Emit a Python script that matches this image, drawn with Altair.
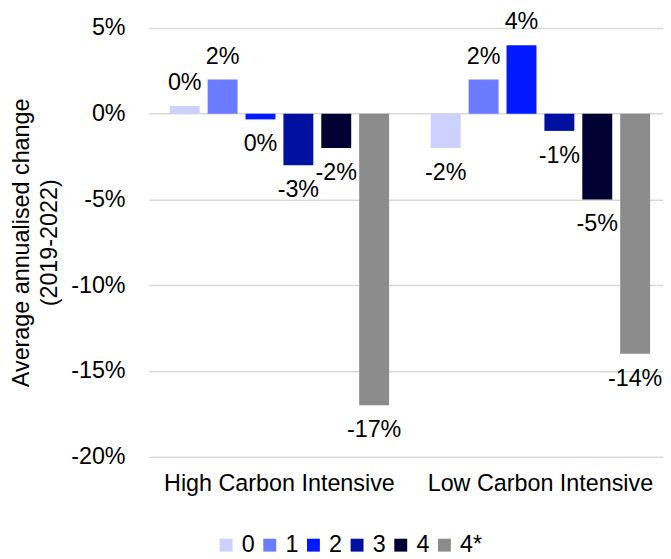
import altair as alt
import pandas as pd

groups = ["High Carbon Intensive", "Low Carbon Intensive"]
series = ["0", "1", "2", "3", "4", "4*"]
high_vals = [0.45, 2.0, -0.33, -3.0, -2.0, -17.0]
low_vals = [-2.0, 2.0, 4.0, -1.0, -5.0, -14.0]
colors = ["#CCD1FF", "#6B7BFF", "#0019FF", "#0011A0", "#000033", "#8C8C8C"]
y_ticks = [-20, -15, -10, -5, 0, 5]

rows = []
for g, vals in zip(groups, [high_vals, low_vals]):
    for s, v in zip(series, vals):
        rows.append({"group": g, "series": s, "value": v, "label": f"{int(round(v))}%"})
df = pd.DataFrame(rows)

FONT = "Liberation Sans"
FS = 23.5

x = alt.X(
    "group:N", sort=groups, title=None,
    scale=alt.Scale(paddingInner=0, paddingOuter=0, range=[2, 528]),
    axis=alt.Axis(labelAngle=0, labelFontSize=FS, labelColor="#000", labelFont=FONT,
                  labelLimit=0, domain=False, ticks=False, labelPadding=15),
)
xo = alt.XOffset("series:N", sort=series,
                 scale=alt.Scale(paddingInner=0.21, paddingOuter=0.55))
y = alt.Y(
    "value:Q", scale=alt.Scale(domain=[-20, 5], nice=False, zero=False),
    axis=alt.Axis(values=y_ticks, labelExpr="datum.value + '%'",
                  title=["Average annualised change", "(2019-2022)"],
                  titleFontSize=FS, titleFont=FONT, titleFontWeight="normal", titleColor="#000",
                  titleLineHeight=28, titlePadding=9,
                  labelFontSize=FS, labelFont=FONT, labelColor="#000", labelPadding=22,
                  domain=False, ticks=False, grid=True, gridColor="#D9D9D9", gridWidth=1.5),
)
color = alt.Color(
    "series:N", sort=series,
    scale=alt.Scale(domain=series, range=colors),
    legend=alt.Legend(orient="none", legendX=68, legendY=509, direction="horizontal", title=None,
                      symbolType="square", symbolSize=169, symbolStrokeWidth=0,
                      labelFontSize=FS, labelFont=FONT, labelColor="#000",
                      labelOffset=4, columnPadding=3),
)

base = alt.Chart(df)
bars = base.mark_bar().encode(x=x, xOffset=xo, y=y, color=color)
pos = base.mark_text(font=FONT, fontSize=FS, color="#000", baseline="middle", dy=-23).encode(
    x=x, xOffset=xo, y=y, text="label:N"
).transform_filter("datum.value >= 0")
neg = base.mark_text(font=FONT, fontSize=FS, color="#000", baseline="middle", dy=25).encode(
    x=x, xOffset=xo, y=y, text="label:N"
).transform_filter("datum.value < 0")

chart = (bars + pos + neg).properties(
    width=520, height=432,
    autosize=alt.AutoSizeParams(type="none"),
    padding={"left": 140, "top": 18, "right": 0, "bottom": 110},
).configure_view(stroke=None)

chart.save("out.html", embed_options={"renderer": "svg", "actions": False})
